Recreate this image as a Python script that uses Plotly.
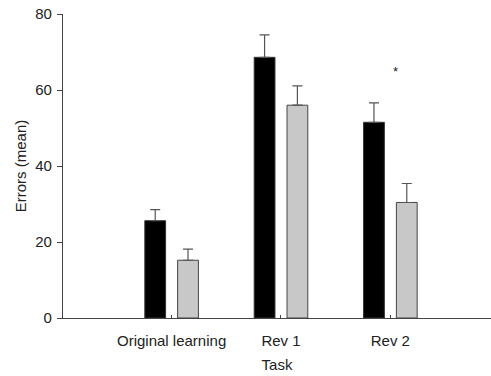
import plotly.graph_objects as go

# Mean errors per task for the two groups, with upward SEM bars
tasks = ["Original learning", "Rev 1", "Rev 2"]
group_a_mean = [25.6, 68.6, 51.5]
group_a_err = [2.9, 5.9, 5.1]
group_b_mean = [15.2, 56.0, 30.4]
group_b_err = [2.9, 5.1, 5.0]
y_ticks = [0, 20, 40, 60, 80]

x_pos = list(range(len(tasks)))
bar_w = 0.19
font_family = "Liberation Sans, Arial, sans-serif"

err_style = dict(type="data", symmetric=False, arrayminus=[0] * len(tasks),
                 color="#555555", thickness=1.2, width=5)

fig = go.Figure()
fig.add_trace(go.Bar(
    x=x_pos, y=group_a_mean, width=bar_w, offset=-0.245,
    marker=dict(color="#000000", line=dict(color="#333333", width=1)),
    error_y=dict(array=group_a_err, **err_style),
    showlegend=False,
))
fig.add_trace(go.Bar(
    x=x_pos, y=group_b_mean, width=bar_w, offset=0.055,
    marker=dict(color="#c8c8c8", line=dict(color="#444444", width=1)),
    error_y=dict(array=group_b_err, **err_style),
    showlegend=False,
))

# Significance marker over Rev 2
fig.add_annotation(x=2.045, y=65, text="*", showarrow=False,
                   font=dict(size=13, color="#222222", family=font_family))

fig.update_layout(
    width=491, height=376,
    margin=dict(l=63, r=0, t=14, b=58),
    paper_bgcolor="white", plot_bgcolor="white",
    barmode="overlay",
    font=dict(family=font_family, size=15, color="#222222"),
    xaxis=dict(
        range=[-0.993, 2.92], tickvals=x_pos, ticktext=tasks,
        showline=True, linecolor="#444444", linewidth=1.2,
        ticks="inside", ticklen=3, tickcolor="#444444",
        ticklabelstandoff=9,
        showgrid=False, zeroline=False,
        title=dict(text="Task", standoff=11, font=dict(size=15)),
    ),
    yaxis=dict(
        range=[0, 80], tickvals=y_ticks,
        showline=True, linecolor="#444444", linewidth=1.2,
        ticks="outside", ticklen=5, tickcolor="#444444",
        ticklabelstandoff=2,
        showgrid=False, zeroline=False,
        title=dict(text="Errors (mean)", standoff=4, font=dict(size=15)),
    ),
)

fig.write_html("out.html")
